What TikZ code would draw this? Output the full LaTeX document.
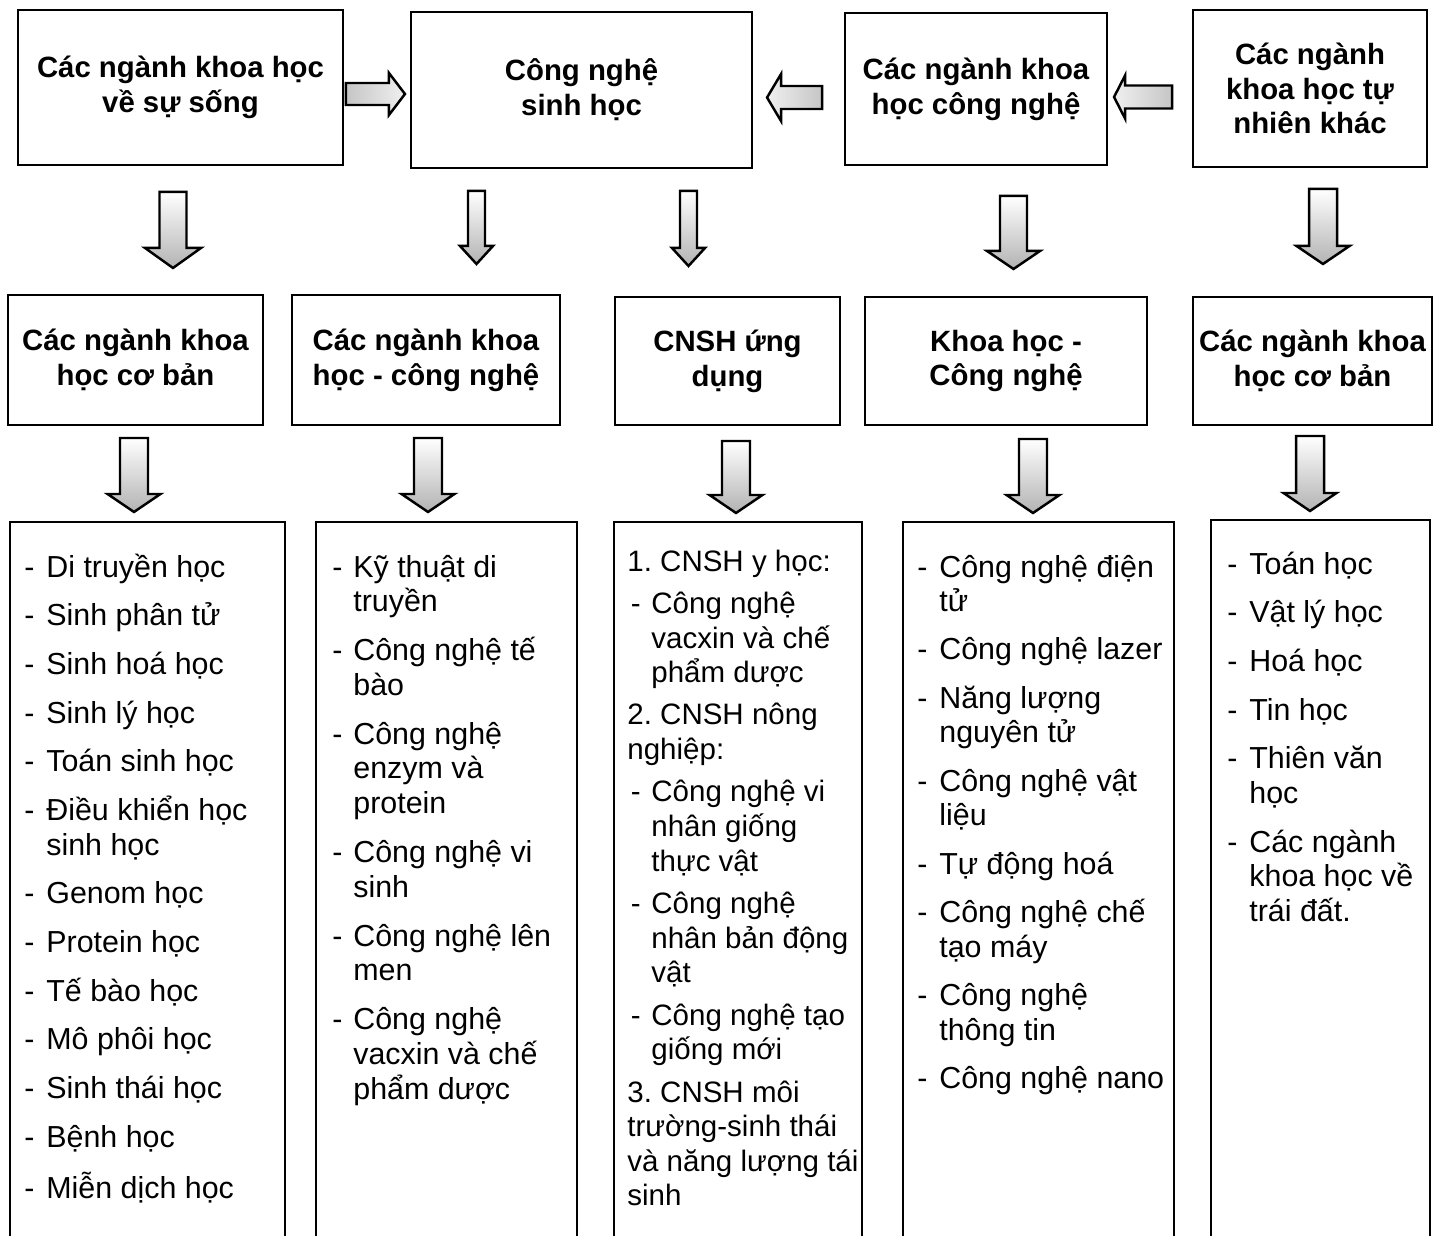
\documentclass[tikz,border=0pt]{standalone}
\usepackage{fontspec}
\setmainfont{Liberation Sans}
\usetikzlibrary{calc}
\frenchspacing

% block arrows: start, length, shaft half width, head half width, head length
\newcommand{\arrdown}[5]{%
  \path[barrow, top color=white, bottom color=gray!60] #1 ++(-#3,0) -- ++(0,#2-#5) -- ++(#3-#4,0)
    -- ++(#4,#5) -- ++(#4,-#5) -- ++(#3-#4,0) -- ++(0,#5-#2) -- cycle;}
\newcommand{\arrright}[5]{%
  \path[barrow, left color=gray!45, right color=gray!12] #1 ++(0,-#3) -- ++(#2-#5,0) -- ++(0,#3-#4)
    -- ++(#5,#4) -- ++(-#5,#4) -- ++(0,#3-#4) -- ++(#5-#2,0) -- cycle;}
\newcommand{\arrleft}[5]{%
  \path[barrow, left color=gray!12, right color=gray!45] #1 ++(0,-#3) -- ++(#5-#2,0) -- ++(0,#3-#4)
    -- ++(-#5,#4) -- ++(#5,#4) -- ++(0,#3-#4) -- ++(#2-#5,0) -- cycle;}

\begin{document}
\begin{tikzpicture}[x=0.02cm, y=-0.02cm,
    headbox/.style={draw, line width=1.1pt, align=center, inner sep=0pt,
        font=\fontsize{16.7}{19.8}\selectfont\bfseries},
    boxsize/.style 2 args={minimum width=#1*0.02cm, minimum height=#2*0.02cm},
    listbox/.style={draw, line width=1.1pt, inner sep=0pt},
    listtext/.style={anchor=base west, inner sep=0pt, font=\fontsize{17.3}{19.7}\selectfont},
    barrow/.style={draw, line width=1.4pt, line join=miter}
]
\useasboundingbox (0,0) rectangle (1442,1235);

\begin{scope}
    % top row
    \node[headbox, boxsize={325}{155}] (T1) at (180.5, 87.5) {Các ngành khoa học\\về sự sống};
    \node[headbox, boxsize={341}{156}] (T2) at (581.5, 90) {Công nghệ\\sinh học};
    \node[headbox, boxsize={262}{152}] (T3) at (976, 89) {Các ngành khoa\\học công nghệ};
    \node[headbox, boxsize={234}{157}] (T4) at (1310, 88.5) {Các ngành\\khoa học tự\\nhiên khác};
    % middle row
    \node[headbox, boxsize={255}{130}] (M1) at (135.5, 360) {Các ngành khoa\\học cơ bản};
    \node[headbox, boxsize={268}{130}] (M2) at (426, 360) {Các ngành khoa\\học - công nghệ};
    \node[headbox, boxsize={225}{128}] (M3) at (727.5, 361) {CNSH ứng\\dụng};
    \node[headbox, boxsize={282}{128}] (M4) at (1006, 361) {Khoa học -\\Công nghệ};
    \node[headbox, boxsize={239}{128}] (M5) at (1312.5, 361) {Các ngành khoa\\học cơ bản};
    % bottom row
    \node[listbox, boxsize={275}{723}] (B1) at (147.5, 883.5) {};
    \node[listbox, boxsize={261}{723}] (B2) at (446.5, 883.5) {};
    \node[listbox, boxsize={248}{723}] (B3) at (738, 883.5) {};
    \node[listbox, boxsize={271}{723}] (B4) at (1038.5, 883.5) {};
    \node[listbox, boxsize={219}{725}] (B5) at (1320.5, 882.5) {};
\end{scope}

% lists
\node[listtext] (L1) at ($(B1.north west)+(15,56)$) {\begin{tabular}[t]{@{}p{0.44cm}@{}l@{}}
    - & Di truyền học\\[8pt]
    - & Sinh phân tử\\[8pt]
    - & Sinh hoá học\\[8pt]
    - & Sinh lý học\\[8pt]
    - & Toán sinh học\\[8pt]
    - & Điều khiển học\\ & sinh học\\[8pt]
    - & Genom học\\[8pt]
    - & Protein học\\[8pt]
    - & Tế bào học\\[8pt]
    - & Mô phôi học\\[8pt]
    - & Sinh thái học\\[8pt]
    - & Bệnh học\\[8pt]
    - & Miễn dịch học
\end{tabular}};
\node[listtext] (L2) at ($(B2.north west)+(17,56)$) {\begin{tabular}[t]{@{}p{0.42cm}@{}l@{}}
    - & Kỹ thuật di\\ & truyền\\[8.2pt]
    - & Công nghệ tế\\ & bào\\[8.2pt]
    - & Công nghệ\\ & enzym và\\ & protein\\[8.2pt]
    - & Công nghệ vi\\ & sinh\\[8.2pt]
    - & Công nghệ lên\\ & men\\[8.2pt]
    - & Công nghệ\\ & vacxin và chế\\ & phẩm dược
\end{tabular}};
\node[listtext, font=\fontsize{16.8}{19.7}\selectfont] (L3) at ($(B3.north west)+(14,50)$) {\begin{tabular}[t]{@{}p{0.48cm}@{}l@{}}
    \multicolumn{2}{@{}l@{}}{1. CNSH y học:}\\[4.4pt]
    \hspace{2pt}- & Công nghệ\\ & vacxin và chế\\ & phẩm dược\\[4.4pt]
    \multicolumn{2}{@{}l@{}}{2. CNSH nông}\\ \multicolumn{2}{@{}l@{}}{nghiệp:}\\[4.4pt]
    \hspace{2pt}- & Công nghệ vi\\ & nhân giống\\ & thực vật\\[4.4pt]
    \hspace{2pt}- & Công nghệ\\ & nhân bản động\\ & vật\\[4.4pt]
    \hspace{2pt}- & Công nghệ tạo\\ & giống mới\\[4.4pt]
    \multicolumn{2}{@{}l@{}}{3. CNSH môi}\\ \multicolumn{2}{@{}l@{}}{trường-sinh thái}\\
    \multicolumn{2}{@{}l@{}}{và năng lượng tái}\\ \multicolumn{2}{@{}l@{}}{sinh}
\end{tabular}};
\node[listtext] (L4) at ($(B4.north west)+(15,56)$) {\begin{tabular}[t]{@{}p{0.44cm}@{}l@{}}
    - & Công nghệ điện\\ & tử\\[7.8pt]
    - & Công nghệ lazer\\[7.8pt]
    - & Năng lượng\\ & nguyên tử\\[7.8pt]
    - & Công nghệ vật\\ & liệu\\[7.8pt]
    - & Tự động hoá\\[7.8pt]
    - & Công nghệ chế\\ & tạo máy\\[7.8pt]
    - & Công nghệ\\ & thông tin\\[7.8pt]
    - & Công nghệ nano
\end{tabular}};
\node[listtext] (L5) at ($(B5.north west)+(17,55)$) {\begin{tabular}[t]{@{}p{0.44cm}@{}l@{}}
    - & Toán học\\[8pt]
    - & Vật lý học\\[8pt]
    - & Hoá học\\[8pt]
    - & Tin học\\[8pt]
    - & Thiên văn\\ & học\\[8pt]
    - & Các ngành\\ & khoa học về\\ & trái đất.
\end{tabular}};

% arrows between top boxes
\arrright{($(T1.east)+(2,6.5)$)}{59}{11}{21}{16}
\arrleft{($(T3.west)+(-22,8.5)$)}{55}{11.5}{23.5}{14}
\arrleft{($(T4.west)+(-20,8.5)$)}{58}{11.5}{21.5}{11}
% arrows top -> middle
\arrdown{($(T1.south)+(-7.5,26)$)}{76}{13.5}{28}{20}
\arrdown{($(T2.south)+(-105,22)$)}{73}{8.5}{16.5}{18}
\arrdown{($(T2.south)+(107,22)$)}{75}{8.5}{16.5}{18}
\arrdown{($(T3.south)+(37.5,30)$)}{73}{13.5}{26.5}{18}
\arrdown{($(T4.south)+(13,21)$)}{75}{14}{26.5}{18}
% arrows middle -> bottom
\arrdown{($(M1.south)+(-1.5,12)$)}{74}{14}{26.5}{18}
\arrdown{($(M2.south)+(2,12)$)}{74}{14}{26.5}{18}
\arrdown{($(M3.south)+(8.5,15)$)}{72}{14}{26.5}{18}
\arrdown{($(M4.south)+(27,13)$)}{74}{14}{26.5}{18}
\arrdown{($(M5.south)+(-2.5,10)$)}{75}{14}{26.5}{18}
\end{tikzpicture}
\end{document}
